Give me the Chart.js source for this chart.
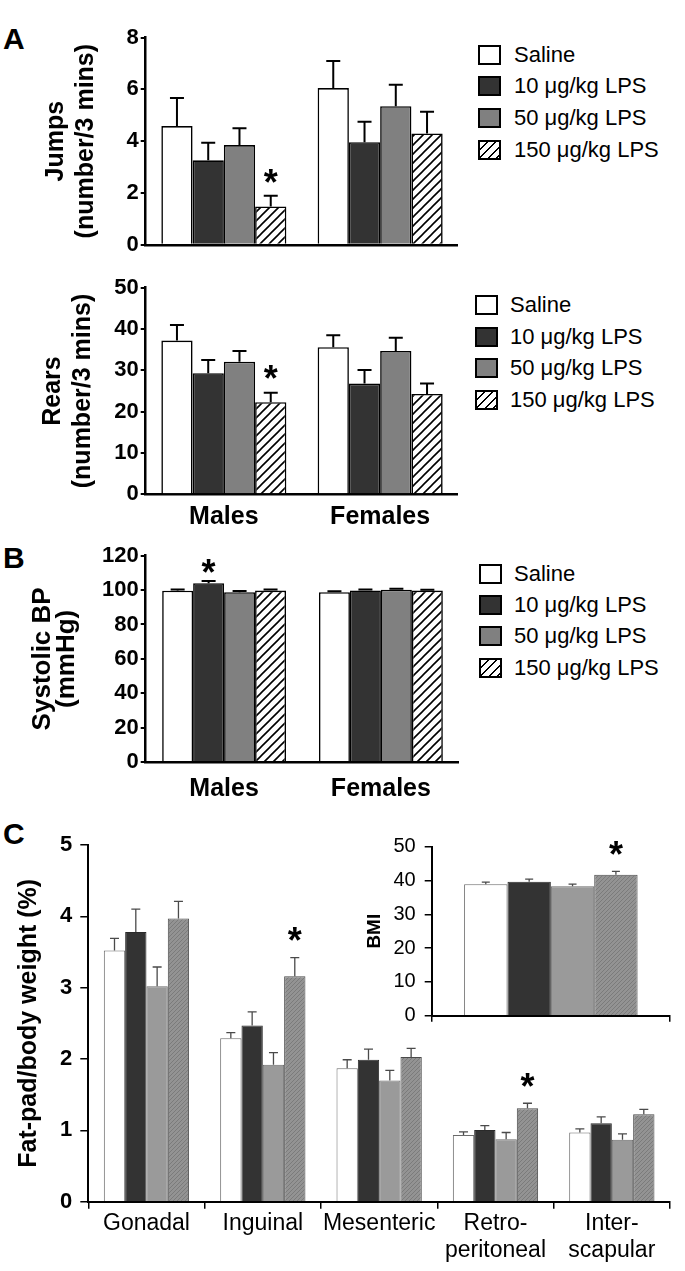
<!DOCTYPE html>
<html><head><meta charset="utf-8">
<script src="https://cdn.jsdelivr.net/npm/chart.js@4.4.1/dist/chart.umd.min.js"></script>
<style>
html,body{margin:0;padding:0;background:#fff;}
#page{position:relative;width:685px;height:1271px;overflow:hidden;font-family:'Liberation Sans',Arial,sans-serif;color:#000;}
canvas{position:absolute;}
.lbl{position:absolute;font-weight:bold;font-size:30px;line-height:30px;}
.leg-box{position:absolute;width:23px;height:20px;box-sizing:border-box;border:2px solid #000;}
.leg-txt{position:absolute;font-size:22px;line-height:24px;white-space:nowrap;}
</style></head>
<body><div id="page">
<div class="lbl" style="left:3px;top:24px">A</div>
<div class="lbl" style="left:3px;top:543px">B</div>
<div class="lbl" style="left:3px;top:819px">C</div>
<canvas id="cJumps" width="462" height="260" style="left:0;top:0"></canvas>
<canvas id="cRears" width="462" height="280" style="left:0;top:260px"></canvas>
<canvas id="cBP" width="462" height="270" style="left:0;top:540px"></canvas>
<canvas id="cFat" width="685" height="461" style="left:0;top:810px"></canvas>
<canvas id="cBMI" width="345" height="230" style="left:340px;top:810px"></canvas>
</div>
<script>
// ---------- DATA ----------
const sexGroups = ['Males', 'Females'];
const seriesNames = ['Saline', '10 μg/kg LPS', '50 μg/kg LPS', '150 μg/kg LPS'];

const jumpsSaline = [4.58, 6.05];
const jumps10 = [3.26, 3.96];
const jumps50 = [3.85, 5.35];
const jumps150 = [1.48, 4.30];
const jumpsSalineErr = [1.09, 1.04];
const jumps10Err = [0.68, 0.79];
const jumps50Err = [0.65, 0.83];
const jumps150Err = [0.41, 0.83];

const rearsSaline = [37.2, 35.6];
const rears10 = [29.3, 26.8];
const rears50 = [32.1, 34.7];
const rears150 = [22.3, 24.3];
const rearsSalineErr = [3.8, 2.9];
const rears10Err = [3.2, 3.3];
const rears50Err = [2.6, 3.2];
const rears150Err = [2.3, 2.5];

const bpSaline = [99.6, 98.8];
const bp10 = [104.0, 99.8];
const bp50 = [98.8, 100.2];
const bp150 = [99.7, 99.7];
const bpSalineErr = [0.8, 0.5];
const bp10Err = [1.3, 0.6];
const bp50Err = [0.6, 0.6];
const bp150Err = [0.6, 0.5];

const fatDepots = ['Gonadal', 'Inguinal', 'Mesenteric', ['Retro-', 'peritoneal'], ['Inter-', 'scapular']];
const fatSaline = [3.52, 2.29, 1.87, 0.935, 0.97];
const fat10 = [3.78, 2.47, 1.99, 1.005, 1.10];
const fat50 = [3.02, 1.92, 1.70, 0.875, 0.87];
const fat150 = [3.97, 3.16, 2.03, 1.31, 1.225];
const fatSalineErr = [0.17, 0.08, 0.12, 0.045, 0.05];
const fat10Err = [0.32, 0.19, 0.15, 0.06, 0.09];
const fat50Err = [0.27, 0.17, 0.14, 0.095, 0.08];
const fat150Err = [0.24, 0.26, 0.12, 0.07, 0.07];

const bmiLabel = ['BMI'];
const bmiSaline = [38.9];
const bmi10 = [39.6];
const bmi50 = [38.3];
const bmi150 = [41.7];
const bmiSalineErr = [0.6];
const bmi10Err = [0.8];
const bmi50Err = [0.6];
const bmi150Err = [1.0];

const jumpsTicks = {max: 8, step: 2};
const rearsTicks = {max: 50, step: 10};
const bpTicks = {max: 120, step: 20};
const fatTicks = {max: 5, step: 1};
const bmiTicks = {max: 50, step: 10};

// ---------- STYLE ----------
const FONT = "'Liberation Sans', Arial, sans-serif";
Chart.defaults.font.family = FONT;
Chart.defaults.color = '#000';

function hatch(bg, fg, size, lw) {
  const c = document.createElement('canvas');
  c.width = size; c.height = size;
  const g = c.getContext('2d');
  g.fillStyle = bg; g.fillRect(0, 0, size, size);
  g.strokeStyle = fg; g.lineWidth = lw;
  g.beginPath();
  g.moveTo(0, size); g.lineTo(size, 0);
  g.moveTo(-size, size); g.lineTo(size, -size);
  g.moveTo(0, 2 * size); g.lineTo(2 * size, 0);
  g.stroke();
  return g.createPattern(c, 'repeat');
}
const hatchBW = hatch('#ffffff', '#000000', 9, 1.6);
const hatchGray = hatch('#939393', '#7b7b7b', 4, 1);

const fillsA = ['#ffffff', '#333333', '#808080', hatchBW];
const bordersA = ['#000', '#000', '#000', '#000'];
const fillsC = ['#ffffff', '#333333', '#9a9a9a', hatchGray];
const bordersC = ['#6a6a6a', '#2a2a2a', '#6a6a6a', '#4a4a4a'];

const errPlugin = {
  id: 'errbars',
  afterDatasetsDraw(chart, args, o) {
    const ctx = chart.ctx, ys = chart.scales.y;
    ctx.save();
    ctx.strokeStyle = o.color; ctx.lineWidth = o.width; ctx.lineCap = 'butt';
    chart.data.datasets.forEach((ds, di) => {
      const meta = chart.getDatasetMeta(di);
      meta.data.forEach((bar, i) => {
        const v = ds.data[i], e = o.errors[di][i];
        const y0 = ys.getPixelForValue(v), y1 = ys.getPixelForValue(v + e);
        ctx.beginPath();
        ctx.moveTo(bar.x, y0); ctx.lineTo(bar.x, y1);
        ctx.moveTo(bar.x - o.cap, y1); ctx.lineTo(bar.x + o.cap, y1);
        ctx.stroke();
      });
    });
    ctx.fillStyle = '#000';
    ctx.font = 'bold ' + o.starSize + 'px ' + FONT;
    ctx.textAlign = 'center'; ctx.textBaseline = 'alphabetic';
    const m = ctx.measureText('*');
    const off = (m.actualBoundingBoxAscent - m.actualBoundingBoxDescent) / 2;
    (o.stars || []).forEach(([di, i, gap]) => {
      const bar = chart.getDatasetMeta(di).data[i];
      const v = chart.data.datasets[di].data[i] + o.errors[di][i];
      const cy = ys.getPixelForValue(v) - gap;
      ctx.fillText('*', bar.x, cy + off);
    });
    ctx.restore();
  }
};

function barChart(id, c) {
  return new Chart(document.getElementById(id), {
    type: 'bar',
    data: {
      labels: c.labels,
      datasets: c.series.map((d, k) => ({
        label: seriesNames[k], data: d,
        backgroundColor: c.fills[k], borderColor: c.borders[k],
        borderWidth: c.bw, borderSkipped: 'start',
        categoryPercentage: c.cat, barPercentage: 1.0
      }))
    },
    options: {
      responsive: false, animation: false, devicePixelRatio: 1,
      layout: {autoPadding: false, padding: c.padding},
      plugins: {
        legend: {display: false}, tooltip: {enabled: false},
        errbars: {errors: c.errors, color: c.errColor, width: c.errWidth, cap: c.cap, stars: c.stars, starSize: c.starSize}
      },
      scales: {
        x: {
          type: 'category',
          ticks: {display: c.xTicks.display, font: c.xTicks.font, color: '#000', padding: c.xTicks.padding, maxRotation: 0, autoSkip: false},
          grid: {display: c.xGrid.display, offset: true, drawOnChartArea: false, drawTicks: c.xGrid.display, tickLength: c.xGrid.len, color: '#000', lineWidth: c.xGrid.lw},
          border: {display: true, color: '#000', width: c.axisW},
          afterFit: s => { s.height = c.xHeight; }
        },
        y: {
          min: 0, max: c.yTicks.max,
          ticks: {stepSize: c.yTicks.step, font: c.yTicks.font, color: '#000', padding: c.yTicks.padding},
          grid: {drawOnChartArea: false, drawTicks: true, tickLength: c.yTicks.len, color: '#000', lineWidth: c.yTicks.lw},
          border: {display: true, color: '#000', width: c.axisW},
          title: {display: true, text: c.title.text, font: c.title.font, color: '#000', padding: {top: c.title.pad, bottom: 0}},
          afterFit: s => { s.width = c.yWidth; }
        }
      }
    },
    plugins: [errPlugin]
  });
}

const tickFontA = {size: 22, weight: 'bold'};
const titleFontA = {size: 25, weight: 'bold', lineHeight: 1.2};
const catFontA = {size: 25, weight: 'bold', lineHeight: 1.2};

barChart('cJumps', {
  labels: sexGroups, series: [jumpsSaline, jumps10, jumps50, jumps150],
  errors: [jumpsSalineErr, jumps10Err, jumps50Err, jumps150Err],
  fills: fillsA, borders: bordersA, bw: 1.6, cat: 0.8,
  padding: {left: 0, right: 3.7, top: 37.5, bottom: 0},
  errColor: '#000', errWidth: 2, cap: 7, stars: [[3, 0, 20]], starSize: 36,
  xTicks: {display: false, font: catFontA, padding: 0}, xGrid: {display: false, len: 0, lw: 0},
  xHeight: 14, axisW: 2.5,
  yTicks: {max: jumpsTicks.max, step: jumpsTicks.step, font: tickFontA, padding: 2, len: 5, lw: 2},
  title: {text: ['Jumps', '(number/3 mins)'], font: titleFontA, pad: 41},
  yWidth: 145.7
});

barChart('cRears', {
  labels: sexGroups, series: [rearsSaline, rears10, rears50, rears150],
  errors: [rearsSalineErr, rears10Err, rears50Err, rears150Err],
  fills: fillsA, borders: bordersA, bw: 1.6, cat: 0.8,
  padding: {left: 0, right: 3.7, top: 27.7, bottom: 0},
  errColor: '#000', errWidth: 2, cap: 7, stars: [[3, 0, 21]], starSize: 36,
  xTicks: {display: true, font: catFontA, padding: 7.4}, xGrid: {display: false, len: 0, lw: 0},
  xHeight: 45.7, axisW: 2.5,
  yTicks: {max: rearsTicks.max, step: rearsTicks.step, font: tickFontA, padding: 2, len: 5, lw: 2},
  title: {text: ['Rears', '(number/3 mins)'], font: titleFontA, pad: 38},
  yWidth: 145.7
});

barChart('cBP', {
  labels: sexGroups, series: [bpSaline, bp10, bp50, bp150],
  errors: [bpSalineErr, bp10Err, bp50Err, bp150Err],
  fills: fillsA, borders: bordersA, bw: 1.6, cat: 0.79,
  padding: {left: 0, right: 2.7, top: 15.7, bottom: 0},
  errColor: '#000', errWidth: 2, cap: 7, stars: [[1, 0, 14.5]], starSize: 36,
  xTicks: {display: true, font: catFontA, padding: 12}, xGrid: {display: false, len: 0, lw: 0},
  xHeight: 48, axisW: 2.5,
  yTicks: {max: bpTicks.max, step: bpTicks.step, font: tickFontA, padding: 2, len: 5, lw: 2},
  title: {text: ['Systolic BP', '(mmHg)'], font: {size: 26, weight: 'bold', lineHeight: 0.95}, pad: 30},
  yWidth: 145.7
});

barChart('cFat', {
  labels: fatDepots, series: [fatSaline, fat10, fat50, fat150],
  errors: [fatSalineErr, fat10Err, fat50Err, fat150Err],
  fills: fillsC, borders: bordersC, bw: 1, cat: 0.733,
  padding: {left: 0, right: 15, top: 35, bottom: 0},
  errColor: '#4a4a4a', errWidth: 1.3, cap: 4.5, stars: [[3, 1, 24], [3, 3, 23]], starSize: 36,
  xTicks: {display: true, font: {size: 23, lineHeight: 1.2}, padding: 1}, xGrid: {display: true, len: 7, lw: 1.5},
  xHeight: 69.3, axisW: 2,
  yTicks: {max: fatTicks.max, step: fatTicks.step, font: {size: 22, weight: 'bold'}, padding: 8, len: 8, lw: 1.5},
  title: {text: 'Fat-pad/body weight (%)', font: {size: 25, weight: 'bold', lineHeight: 1.2}, pad: 14.3},
  yWidth: 88.3
});

barChart('cBMI', {
  labels: bmiLabel, series: [bmiSaline, bmi10, bmi50, bmi150],
  errors: [bmiSalineErr, bmi10Err, bmi50Err, bmi150Err],
  fills: fillsC, borders: bordersC, bw: 1, cat: 0.728,
  padding: {left: 0, right: 15, top: 36.7, bottom: 0},
  errColor: '#4a4a4a', errWidth: 1.3, cap: 4, stars: [[3, 0, 23]], starSize: 36,
  xTicks: {display: false, font: {size: 20}, padding: 0}, xGrid: {display: true, len: 6, lw: 1.5},
  xHeight: 24.3, axisW: 2,
  yTicks: {max: bmiTicks.max, step: bmiTicks.step, font: {size: 20}, padding: 9, len: 7, lw: 1.5},
  title: {text: 'BMI', font: {size: 19, weight: 'bold', lineHeight: 1.2}, pad: 23},
  yWidth: 91.7
});

// ---------- LEGENDS ----------
const legendBoxCss = [
  'background:#fff',
  'background:#333',
  'background:#808080',
  'background:repeating-linear-gradient(135deg,#fff 0px,#fff 4.5px,#000 4.5px,#000 6px)'
];
function legend(boxLeft, textLeft, centers) {
  const page = document.getElementById('page');
  centers.forEach((cy, k) => {
    const b = document.createElement('div');
    b.className = 'leg-box';
    b.style.cssText = 'left:' + boxLeft + 'px;top:' + (cy - 10) + 'px;' + legendBoxCss[k];
    page.appendChild(b);
    const t = document.createElement('div');
    t.className = 'leg-txt';
    t.style.left = textLeft + 'px'; t.style.top = (cy - 12) + 'px';
    t.textContent = seriesNames[k];
    page.appendChild(t);
  });
}
legend(478, 514, [55, 86.3, 117.5, 150]);
legend(475, 510, [305, 337, 368, 400]);
legend(479, 514, [574.3, 605, 636, 667.5]);
</script>
</body></html>
